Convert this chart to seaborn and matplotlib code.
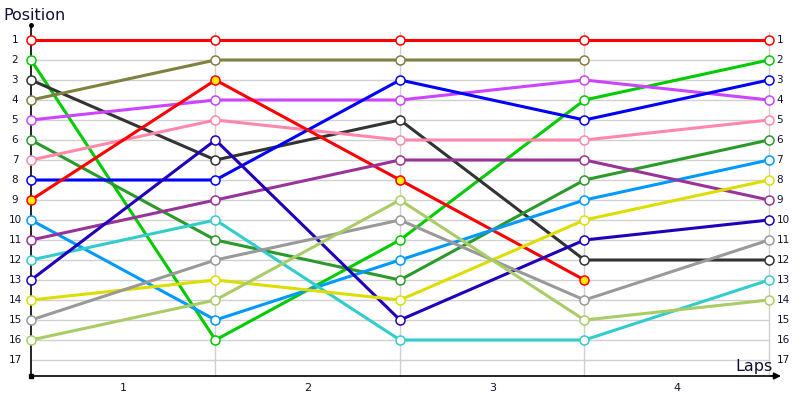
import numpy as np
import pandas as pd
import matplotlib
matplotlib.use("Agg")
import matplotlib.pyplot as plt
import seaborn as sns

# positions after each lap (start = lap 0); None = retired
laps = [0, 1, 2, 3, 4]
red = [1, 1, 1, 1, 1]
green = [2, 16, 11, 4, 2]
dark_gray = [3, 7, 5, 12, 12]
olive = [4, 2, 2, 2, None]
magenta = [5, 4, 4, 3, 4]
dark_green = [6, 11, 13, 8, 6]
pink = [7, 5, 6, 6, 5]
blue = [8, 8, 3, 5, 3]
red_yellow = [9, 3, 8, 13, None]
light_blue = [10, 15, 12, 9, 7]
purple = [11, 9, 7, 7, 9]
cyan = [12, 10, 16, 16, 13]
navy = [13, 6, 15, 11, 10]
yellow = [14, 13, 14, 10, 8]
gray = [15, 12, 10, 14, 11]
light_green = [16, 14, 9, 15, 14]

drivers = ["red", "green", "dark_gray", "olive", "magenta", "dark_green", "pink",
           "blue", "red_yellow", "light_blue", "purple", "cyan", "navy",
           "yellow", "gray", "light_green"]
series = [red, green, dark_gray, olive, magenta, dark_green, pink, blue,
          red_yellow, light_blue, purple, cyan, navy, yellow, gray, light_green]
colors = ["#ff0000", "#00cc00", "#333333", "#808040", "#cc44ff", "#2a9a2a",
          "#ff88aa", "#0000ff", "#ff0000", "#0099ff", "#993399", "#33cccc",
          "#2200bb", "#dddd00", "#999999", "#aacc66"]
face = ["white"] * 16
face[8] = "#ffee00"

positions = list(range(1, 18))
lap_labels = ["1", "2", "3", "4"]

rows = []
for name, vals in zip(drivers, series):
    for lap, p in zip(laps, vals):
        if p is not None:
            rows.append({"driver": name, "lap": lap, "pos": p})
df = pd.DataFrame(rows)

sns.set_style("white")
fig = plt.figure(figsize=(8, 4), dpi=100)
ax = fig.add_axes([0, 0, 1, 1])
ax.set_xlim(-31 / 184.5, 769 / 184.5)
ax.set_ylim(19, -1)
ax.axis("off")

# grid
for p in positions:
    ax.plot([0, 4], [p, p], color="#d0d0d0", lw=1, zorder=0)
for lap in laps[1:]:
    ax.plot([lap, lap], [0.6, 17.8], color="#d0d0d0", lw=1, zorder=0)

# axes lines
ax.plot([0, 0], [0.25, 17.8], color="black", lw=1.2, zorder=1)
ax.plot([0], [0.25], marker="o", ms=2.5, color="black")
ax.plot([0], [17.8], marker="s", ms=2.5, color="black")
ax.plot([0, 4.04], [17.8, 17.8], color="black", lw=1.2, zorder=1)
ax.annotate("", xy=(4.08, 17.8), xytext=(4.0, 17.8),
            arrowprops=dict(arrowstyle="-|>", color="black", lw=1.2,
                            mutation_scale=10))

for i, name in enumerate(drivers):
    sub = df[df["driver"] == name]
    sns.lineplot(data=sub, x="lap", y="pos", ax=ax, color=colors[i], lw=2.2,
                 marker="o", markersize=6.5, markerfacecolor=face[i],
                 markeredgecolor=colors[i], markeredgewidth=1.1,
                 legend=False, zorder=3)

txt_color = "#111133"
for p in positions:
    ax.text(-0.087, p, str(p), ha="center", va="center", fontsize=7.5,
            color=txt_color)
    ax.text(4.04, p, str(p), ha="left", va="center", fontsize=7.5,
            color=txt_color)
for i, lab in enumerate(lap_labels):
    ax.text(i + 0.5, 18.4, lab, ha="center", va="center", fontsize=8,
            color=txt_color)

ax.text(-0.15, -0.25, "Position", ha="left", va="center", fontsize=11.5,
        color=txt_color)
ax.text(4.02, 17.3, "Laps", ha="right", va="center", fontsize=11.5,
        color=txt_color)

fig.savefig("out.png", dpi=100, facecolor="white")
